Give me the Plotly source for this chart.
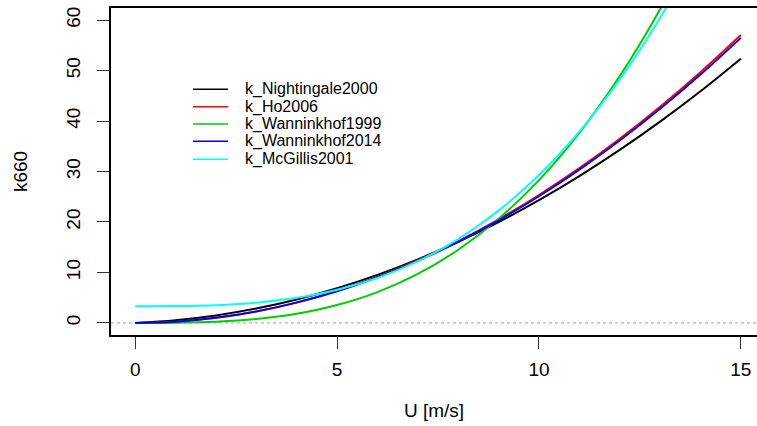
import plotly.graph_objects as go

# Wind speed U [m/s]
U = [0, 1, 2, 3, 4, 5, 6, 7, 8, 9, 10, 11, 12, 13, 14, 15]

# k660 values
k_Nightingale2000 = [0, 0.53, 1.48, 2.86, 4.65, 6.88, 9.52, 12.59, 16.08, 19.99, 24.33, 29.09, 34.27, 39.88, 45.91, 52.36]
k_Ho2006 = [0, 0.25, 1.01, 2.28, 4.06, 6.34, 9.13, 12.42, 16.22, 20.53, 25.35, 30.67, 36.50, 42.84, 49.69, 57.04]
k_Wanninkhof1999 = [0, 0.03, 0.23, 0.76, 1.81, 3.54, 6.11, 9.71, 14.49, 20.63, 28.30, 37.67, 48.90, 62.17, 77.66, 95.51]
k_Wanninkhof2014 = [0, 0.25, 1.00, 2.26, 4.02, 6.28, 9.04, 12.30, 16.06, 20.33, 25.10, 30.37, 36.14, 42.42, 49.20, 56.48]
k_McGillis2001 = [3.30, 3.33, 3.51, 4.00, 4.96, 6.55, 8.92, 12.22, 16.61, 22.25, 29.30, 37.91, 48.23, 60.42, 74.64, 91.05]

series_names = ["k_Nightingale2000", "k_Ho2006", "k_Wanninkhof1999", "k_Wanninkhof2014", "k_McGillis2001"]
series_values = [k_Nightingale2000, k_Ho2006, k_Wanninkhof1999, k_Wanninkhof2014, k_McGillis2001]
series_colors = ["#000000", "#FF0000", "#00CD00", "#0000FF", "#00FFFF"]

x_ticks = [0, 5, 10, 15]
y_ticks = [0, 10, 20, 30, 40, 50, 60]

FONT = "Liberation Sans, Arial, sans-serif"

fig = go.Figure()

# dotted reference line at zero
fig.add_hline(y=0, line=dict(color="#A0A0A0", width=1, dash="dot"), layer="below")

for name, vals, col in zip(series_names, series_values, series_colors):
    fig.add_trace(go.Scatter(
        x=U, y=vals, mode="lines", name=name,
        line=dict(color=col, width=2, shape="spline", smoothing=1),
        showlegend=False,
    ))

# manual legend (R-style, no box)
plot_l, plot_r, plot_t, plot_b = 111, 757, 8, 335
pw, ph = plot_r - plot_l, plot_b - plot_t
row_px = [89.3, 106.7, 124.0, 141.3, 159.3]
seg_x0 = (193 - plot_l) / pw
seg_x1 = (228 - plot_l) / pw
txt_x = (243 - plot_l) / pw
for name, col, ypx in zip(series_names, series_colors, row_px):
    yp = (plot_b - ypx) / ph
    fig.add_shape(type="line", xref="paper", yref="paper",
                  x0=seg_x0, x1=seg_x1, y0=yp, y1=yp,
                  line=dict(color=col, width=1.5))
    fig.add_annotation(xref="paper", yref="paper", x=txt_x, y=yp,
                       text=name, showarrow=False, xanchor="left", yanchor="middle",
                       font=dict(family=FONT, size=16, color="#000000"))

fig.update_layout(
    width=757, height=426,
    margin=dict(l=plot_l, r=757 - plot_r, t=plot_t, b=426 - plot_b),
    paper_bgcolor="white", plot_bgcolor="white",
    font=dict(family=FONT, size=19, color="#000000"),
    showlegend=False,
)
fig.update_xaxes(
    range=[-0.6, 15.4], tickvals=x_ticks, ticktext=[str(v) for v in x_ticks],
    showline=True, mirror=True, linecolor="black", linewidth=1.5,
    ticks="outside", ticklen=12, tickwidth=1.2, tickcolor="#333333",
    showgrid=False, zeroline=False,
    ticklabelstandoff=4,
    title=dict(text="U [m/s]", standoff=25, font=dict(size=19)),
)
fig.update_yaxes(
    range=[-2.4, 62.4], tickvals=y_ticks, ticktext=[str(v) for v in y_ticks],
    showline=True, mirror=False, linecolor="black", linewidth=1.5,
    ticks="outside", ticklen=12, tickwidth=1.2, tickcolor="#333333",
    tickangle=-90, ticklabelstandoff=10,
    showgrid=False, zeroline=False,
    title=dict(text="k660", standoff=30, font=dict(size=19)),
)

fig.write_html(
    "out.html",
    config={"displayModeBar": False},
    post_script="document.body.style.margin='0';document.body.style.overflow='hidden';",
)
